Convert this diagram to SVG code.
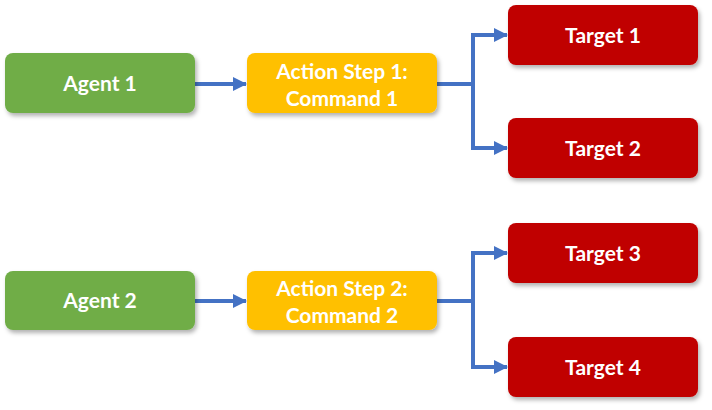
<svg xmlns="http://www.w3.org/2000/svg" width="712" height="410" viewBox="0 0 712 410">
<defs>
<filter id="sh" x="-10%" y="-20%" width="125%" height="150%"><feDropShadow dx="2" dy="3" stdDeviation="2" flood-color="#000" flood-opacity="0.3"/></filter>
<marker id="ah" markerWidth="14" markerHeight="14" refX="13" refY="7" orient="auto" markerUnits="userSpaceOnUse"><path d="M0,0 L14,7 L0,14 z" fill="#4472C4"/></marker>
</defs>
<style>
.box{filter:url(#sh)}
.g{fill:#70AD47}.y{fill:#FFC000}.r{fill:#C00000}
text{font-family:Lato,"Open Sans",sans-serif;font-size:21px;font-weight:bold;fill:#fff;text-anchor:middle}
.c{fill:none;stroke:#4472C4;stroke-width:4}
</style>
<rect width="712" height="410" fill="#fff"/>
<g id="connectors">
<path class="c" d="M195,84 H246" marker-end="url(#ah)"/>
<path class="c" d="M437,84 H473"/>
<path class="c" d="M473,86 V35 H507" marker-end="url(#ah)"/>
<path class="c" d="M473,82 V148 H507" marker-end="url(#ah)"/>
<path class="c" d="M195,301 H246" marker-end="url(#ah)"/>
<path class="c" d="M437,301 H473"/>
<path class="c" d="M473,303 V253 H507" marker-end="url(#ah)"/>
<path class="c" d="M473,299 V367 H507" marker-end="url(#ah)"/>
</g>
<g id="agent1"><rect class="box g" x="5" y="53" width="190" height="60" rx="8"/><text x="100" y="91">Agent 1</text></g>
<g id="action1"><rect class="box y" x="247" y="53" width="190" height="60" rx="8"/><text x="342" y="79">Action Step 1:</text><text x="342" y="106">Command 1</text></g>
<g id="target1"><rect class="box r" x="508" y="5" width="190" height="60" rx="8"/><text x="603" y="43">Target 1</text></g>
<g id="target2"><rect class="box r" x="508" y="118" width="190" height="60" rx="8"/><text x="603" y="156">Target 2</text></g>
<g id="agent2"><rect class="box g" x="5" y="271" width="190" height="59" rx="8"/><text x="100" y="308">Agent 2</text></g>
<g id="action2"><rect class="box y" x="247" y="271" width="190" height="59" rx="8"/><text x="342" y="296">Action Step 2:</text><text x="342" y="323">Command 2</text></g>
<g id="target3"><rect class="box r" x="508" y="223" width="190" height="60" rx="8"/><text x="603" y="261">Target 3</text></g>
<g id="target4"><rect class="box r" x="508" y="337" width="190" height="60" rx="8"/><text x="603" y="375">Target 4</text></g>
</svg>
